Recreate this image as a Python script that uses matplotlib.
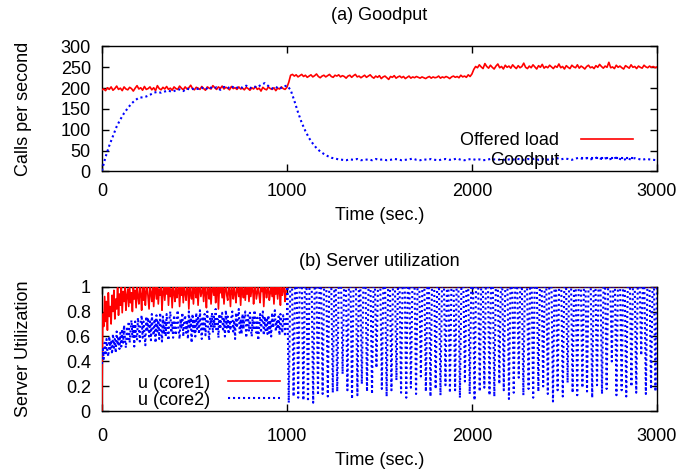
import numpy as np
import matplotlib
matplotlib.use("Agg")
import matplotlib.pyplot as plt

plt.rcParams['font.family'] = ['Liberation Sans', 'DejaVu Sans']
plt.rcParams['font.size'] = 13

# ---------------- (a) Goodput data ----------------
t_load = np.arange(0, 3001, 10)          # seconds
offered_load = [
 196,198,194,201,197,203,195,199,205,197, 200,194,203,198,196,202,199,193,200,206,
 198,201,195,204,197,199,203,196,201,194, 206,199,196,202,198,204,197,200,195,203,
 199,197,205,200,196,203,198,201,207,199, 196,202,200,197,204,199,195,203,200,198,
 206,201,197,203,199,205,198,202,200,196, 204,199,201,197,203,198,200,196,202,199,
 195,201,198,204,197,200,193,202,198,196, 203,199,197,201,194,200,198,203,199,197,
 202,
 214,231,233,229,232,227,230,233,228,231, 226,229,232,227,230,234,228,225,229,231,
 227,230,233,228,226,231,229,232,227,230, 228,224,229,231,226,230,233,227,229,225,
 228,231,226,229,232,227,224,229,226,230, 223,227,229,225,221,228,226,230,224,227,
 229,225,228,223,226,229,224,227,225,228, 226,224,227,225,223,226,228,224,227,225,
 226,229,224,227,225,228,226,223,227,229, 226,228,225,231,227,229,226,232,228,234,
 245,252,249,256,251,247,259,252,248,255, 250,246,253,258,249,252,246,255,250,253,
 248,256,251,247,254,249,252,260,250,247, 253,249,256,251,246,254,250,257,248,252,
 249,255,251,247,253,250,258,249,252,246, 254,250,247,255,251,249,256,248,253,250,
 246,252,255,249,251,247,254,250,257,252, 248,253,250,262,249,251,247,255,250,253,
 249,246,254,251,248,256,250,252,247,253, 250,248,255,251,249,253,250,252,249,251]

t_good = np.arange(0, 3001, 20)
goodput = [
 2,35,62,85,108,125,140,152,163,171, 177,178,180,184,189,191,189,192,194,191,
 195,197,193,199,196,200,198,201,197,203, 199,202,196,203,200,205,199,203,201,206,
 200,204,202,208,212,205,199,203,198,204, 206,196,170,142,117,97,80,67,56,48,
 42,37,33,31,29,28,
 27,29,28,30,27,28,29,27,30,28, 29,27,28,30,29,27,28,29,31,28,
 27,29,28,30,28,27,29,30,28,29, 31,28,27,29,30,28,29,27,28,30,
 29,28,30,27,29,28,31,29,28,30, 29,31,28,30,29,28,30,32,29,31,
 30,28,31,33,30,32,29,31,34,30, 32,29,31,33,30,28,31,29,32,30,
 28,30,29,28,27]

# ---------------- (b) Server utilization data ----------------
t_util = np.arange(0, 1001, 5)
core1_pct = [
 0,78,68,92,72,88,65,95,76,84, 70,93,80,97,74,90,82,99,77,94,
 85,100,79,96,88,100,81,93,98,84, 100,87,95,80,100,90,97,83,100,92,
 86,100,94,81,99,89,100,85,96,100, 91,82,100,95,88,100,84,97,100,90,
 100,86,98,93,100,81,96,100,89,99, 94,100,85,100,92,98,83,100,96,88,
 100,91,97,100,84,99,93,100,87,100, 95,89,100,98,82,100,94,90,100,86,
 100,97,91,100,85,99,100,92,96,100, 88,100,95,83,100,97,90,100,86,98,
 100,93,100,87,96,100,82,99,95,100, 91,100,86,98,100,93,89,100,97,84,
 100,96,90,100,94,87,100,98,92,100, 85,100,97,91,100,89,99,94,100,88,
 100,92,99,100,86,97,100,90,95,100, 93,87,100,96,100,84,98,100,91,97,
 100,89,95,100,92,100,86,99,94,100, 90,100,97,85,100,93,98,100,88,96,
 100]
core2_pct = [
 38,50,42,55,45,58,48,44,60,50, 57,46,62,51,58,47,64,53,60,50,
 63,52,66,55,69,57,51,68,58,72, 55,65,73,59,70,52,72,61,57,75,
 66,56,71,77,59,72,63,53,76,64, 75,60,72,57,78,65,61,74,55,77,
 64,73,58,79,66,56,76,62,73,60, 78,65,57,74,80,63,72,59,77,66,
 61,75,81,65,58,74,66,79,60,72, 77,63,73,58,80,66,75,55,78,64,
 74,60,79,66,75,62,81,67,58,76, 64,78,61,73,80,66,57,75,68,79,
 63,76,67,82,64,74,59,78,66,75, 79,64,75,60,81,67,76,62,73,65,
 75,80,64,73,58,79,67,76,82,63, 74,62,78,66,75,80,59,71,77,64,
 79,67,60,76,65,81,70,63,75,57, 68,78,63,74,80,61,76,65,75,62,
 77,63,73,60,79,67,75,81,64,73, 66,76,61,78,68,63,77,72,60,74,
 72]
# after t=1000: core1 saturated at 1.0, core2 saturated with periodic drops
dip_times = [
 1010,1036,1061,1089,1114,1142,1168,1193,1221,1248,1272,1301,1327,1352,1381,1405,
 1433,1460,1484,1513,1539,1565,1592,1617,1645,1670,1698,1724,1751,1776,1804,1830,
 1857,1881,1909,1935,1962,1988,2014,2042,2067,2095,2121,2148,2172,2200,2226,2253,
 2278,2306,2331,2359,2385,2410,2438,2463,2491,2517,2544,2569,2597,2622,2650,2676,
 2703,2728,2756,2781,2809,2834,2862,2888,2915,2940,2968,2992]
dip_mins = [
 0.07,0.12,0.11,0.09,0.08,0.07,0.13,0.14,0.12,0.15,
 0.16,0.30,0.17,0.10,0.13,0.22,0.16,0.14,0.35,0.18,
 0.12,0.17,0.25,0.15,0.11,0.19,0.14,0.28,0.16,0.12,
 0.18,0.13,0.21,0.15,0.17,0.11,0.24,0.14,0.09,0.16,
 0.19,0.13,0.12,0.22,0.17,0.10,0.15,0.27,0.13,0.18,
 0.11,0.16,0.20,0.14,0.08,0.17,0.12,0.23,0.15,0.13,
 0.19,0.16,0.11,0.21,0.14,0.18,0.40,0.13,0.17,0.12,
 0.20,0.15,0.45,0.14,0.18,0.16]
t_end = 3000
dip_halfwidth = 8

# ---------------- build series ----------------
core1_t = list(t_util) + [t_end]
core1_v = [v / 100 for v in core1_pct] + [1.0]
core2_t = list(t_util)
core2_v = [v / 100 for v in core2_pct]
for dt, dm in zip(dip_times, dip_mins):
    core2_t += [dt - dip_halfwidth, dt, dt + dip_halfwidth]
    core2_v += [1.0, dm, 1.0]
core2_t.append(t_end)
core2_v.append(1.0)

RED = '#ff0000'
BLUE = '#0000ff'
blue_dots = (0, (1.0, 1.4))

fig = plt.figure(figsize=(6.93, 4.72), dpi=100)
ax1 = fig.add_axes([0.147, 0.6367, 0.801, 0.2648])
ax2 = fig.add_axes([0.147, 0.1282, 0.801, 0.2648])

def style(ax, pad):
    ax.tick_params(direction='in', length=5, width=1, top=True, right=True,
                   labelsize=13)
    ax.tick_params(axis='x', pad=pad)
    ax.tick_params(axis='y', pad=8)
    for s in ax.spines.values():
        s.set_linewidth(1.0)
        s.set_zorder(1)
    ax.set_xlim(0, 3000)
    ax.set_xticks([0, 1000, 2000, 3000])

# (a)
style(ax1, 8)
ax1.plot(t_load, offered_load, color=RED, lw=1.2, label='Offered load')
ax1.plot(t_good, goodput, color=BLUE, lw=1.5, linestyle=blue_dots, label='Goodput')
ax1.set_ylim(0, 300)
ax1.set_yticks([0, 50, 100, 150, 200, 250, 300])
ax1.set_title('(a) Goodput', fontsize=13, pad=19)
ax1.set_xlabel('Time (sec.)', fontsize=13, labelpad=5)
ax1.set_ylabel('Calls per second', fontsize=13)
ax1.yaxis.set_label_coords(-0.125, 0.5)
ax1.legend(loc='lower right', bbox_to_anchor=(0.962, 0.0), frameon=False,
           markerfirst=False, borderpad=0, borderaxespad=0.15, handlelength=2.9,
           handletextpad=1.2, labelspacing=0.15, fontsize=13)

# (b)
style(ax2, 12)
ax2.plot(core1_t, core1_v, color=RED, lw=1.2, label='u (core1)')
ax2.plot(core2_t, core2_v, color=BLUE, lw=1.5, linestyle=blue_dots, label='u (core2)')
ax2.set_ylim(0, 1)
ax2.set_yticks([0, 0.2, 0.4, 0.6, 0.8, 1.0])
ax2.set_yticklabels(['0', '0.2', '0.4', '0.6', '0.8', '1'])
ax2.set_title('(b) Server utilization', fontsize=13, pad=15)
ax2.set_xlabel('Time (sec.)', fontsize=13, labelpad=5)
ax2.set_ylabel('Server Utilization', fontsize=13)
ax2.yaxis.set_label_coords(-0.125, 0.5)
ax2.legend(loc='lower right', bbox_to_anchor=(0.326, 0.0), frameon=False,
           markerfirst=False, borderpad=0, borderaxespad=0.15, handlelength=2.9,
           handletextpad=1.0, labelspacing=0.0, fontsize=13)

fig.savefig('out.png', dpi=100)
